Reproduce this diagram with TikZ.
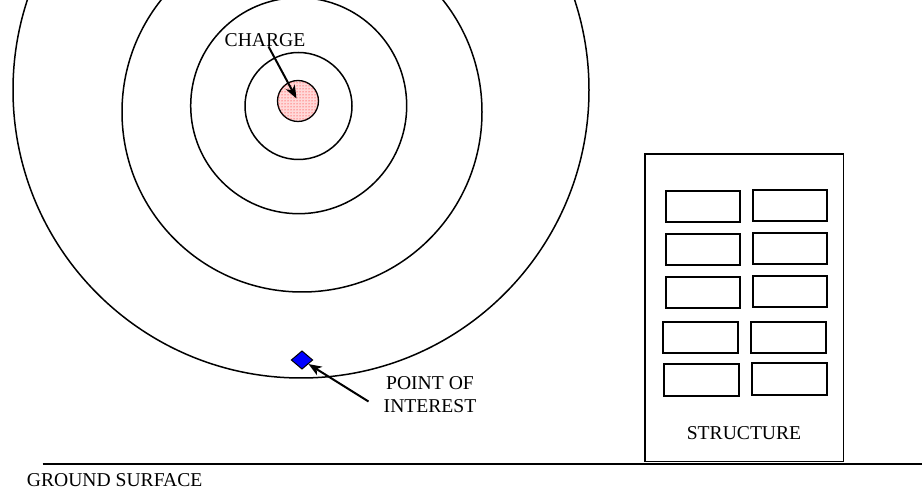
\documentclass[tikz,border=0pt]{standalone}
\usepackage{fontspec}
\setmainfont{Liberation Serif}
\usetikzlibrary{arrows.meta,shapes.geometric,patterns}
\begin{document}
\begin{tikzpicture}[x=1pt,y=-1pt,
  ring/.style={draw,line width=1.5pt},
  lbl/.style={inner sep=0pt,font=\fontsize{19.6}{22.5}\selectfont},
  win/.style={draw,line width=1.8pt},
  arr/.style={line width=2pt,-{Stealth[length=13pt,width=10pt,inset=3.5pt]}}]
\useasboundingbox (0,0) rectangle (922,494);
% blast rings
\draw[ring] (298.5,106) circle[radius=53.5pt];
\draw[ring] (298.7,105.7) circle[radius=108pt];
\draw[ring] (302,112) circle[radius=180pt];
\draw[ring] (301,90) circle[radius=288pt];
% charge
\node[circle,draw,line width=1.3pt,minimum size=41pt,inner sep=0pt,
      fill=red!15,postaction={pattern=dots,pattern color=red}] (charge) at (298,101) {};
\node[lbl,anchor=base] (chargelbl) at (265,46.5) {CHARGE};
\coordinate (chargetail) at (268.5,46.5);
\coordinate (chargetip) at (296.5,98.5);
\draw[arr] (chargetail) -- (chargetip);
% point of interest
\node[diamond,draw,fill=blue,line width=1pt,minimum width=21.6pt,minimum height=18.4pt,inner sep=0pt] (poi) at (302,360) {};
\node[lbl,align=center,anchor=north] (poilbl) at (430,376.5) {POINT OF\\INTEREST};
\coordinate (poitail) at (368.5,401.5);
\draw[arr] (poitail) -- (poi);
% structure
\node[draw,line width=1.5pt,minimum width=198.3pt,minimum height=307.5pt,inner sep=0pt] (structure) at (744.15,307.75) {};
\draw[win] (665.7,190.7) rectangle (740,221.7);
\draw[win] (752.7,190) rectangle (827.3,220.7);
\draw[win] (665.7,234) rectangle (740,265.3);
\draw[win] (752.7,233.3) rectangle (827.3,264.3);
\draw[win] (665.7,276.7) rectangle (740,308.3);
\draw[win] (752.7,276) rectangle (827.3,307.3);
\draw[win] (663.3,322.3) rectangle (738.3,353.3);
\draw[win] (750.7,321.7) rectangle (825.7,352.7);
\draw[win] (664.3,364.3) rectangle (739.3,396);
\draw[win] (751.7,363.3) rectangle (826.7,395);
\node[lbl,anchor=base] (structlbl) at (744,440) {STRUCTURE};
% ground
\coordinate (g1) at (42.7,464);
\coordinate (g2) at (922,464);
\draw[line width=1.8pt] (g1) -- (g2);
\node[lbl,anchor=base west] (groundlbl) at (26.7,486.5) {GROUND SURFACE};
\end{tikzpicture}
\end{document}
